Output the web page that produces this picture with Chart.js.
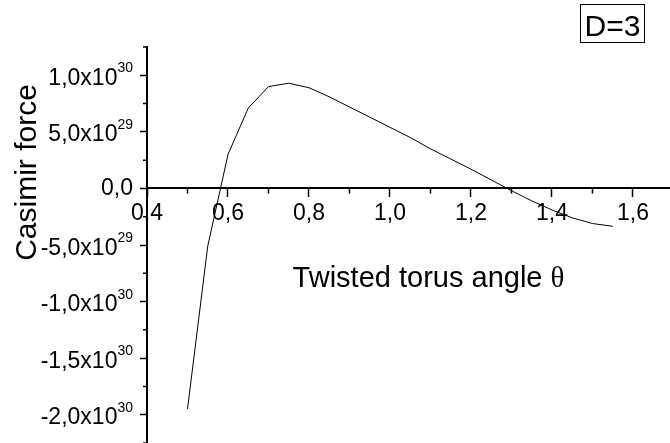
<!DOCTYPE html>
<html>
<head>
<meta charset="utf-8">
<script src="https://cdn.jsdelivr.net/npm/chart.js@4.4.1/dist/chart.umd.min.js"></script>
<style>
  html, body { margin: 0; padding: 0; background: #ffffff; overflow: hidden; }
  #wrap { width: 670px; height: 443px; position: relative; }
  canvas { display: block; }
</style>
</head>
<body>
<div id="wrap"><canvas id="c" width="670" height="443"></canvas></div>
<script>
// ---- data ----
const angles = [0.50, 0.55, 0.60, 0.65, 0.70, 0.75, 0.80, 0.85, 0.90, 0.95, 1.00,
                1.05, 1.10, 1.15, 1.20, 1.25, 1.30, 1.35, 1.40, 1.45, 1.50, 1.55];
const forces = [-1.95e30, -5.1e29, 3.0e29, 7.1e29, 9.0e29, 9.3e29, 8.9e29, 8.1e29, 7.2e29, 6.3e29, 5.4e29,
                4.5e29, 3.5e29, 2.6e29, 1.7e29, 7.5e28, -2.0e28, -1.1e29, -1.9e29, -2.6e29, -3.1e29, -3.35e29];

const xTicks = [0.4, 0.6, 0.8, 1.0, 1.2, 1.4, 1.6];
const xTickLabels = ['0,4', '0,6', '0,8', '1,0', '1,2', '1,4', '1,6'];
const yTicks = [1.0e30, 5.0e29, 0, -5.0e29, -1.0e30, -1.5e30, -2.0e30];
const yTickMantissa = ['1,0x10', '5,0x10', '0,0', '-5,0x10', '-1,0x10', '-1,5x10', '-2,0x10'];
const yTickExponent = ['30', '29', '', '29', '30', '30', '30'];

const xTitle = 'Twisted torus angle ';
const xTitleSymbol = '\u03B8';
const yTitle = 'Casimir force';
const legendText = 'D=3';

const SANS = '"Liberation Sans", Arial, Helvetica, sans-serif';
const SERIF = '"Liberation Serif", "Times New Roman", serif';

const decor = {
  id: 'decor',
  afterDraw(chart) {
    const ctx = chart.ctx;
    const xs = chart.scales.x, ys = chart.scales.y;
    const y0 = ys.getPixelForValue(0);
    const x0 = xs.left;
    ctx.save();
    // minor ticks
    ctx.strokeStyle = '#000';
    ctx.lineWidth = 1.5;
    ctx.beginPath();
    const yStep = yTicks[0] - yTicks[1];
    for (let v = yTicks[0] + yStep / 2; v >= ys.min - 1e20; v -= yStep) {
      const py = ys.getPixelForValue(v);
      ctx.moveTo(x0 - 4, py);
      ctx.lineTo(x0, py);
    }
    const xStep = xTicks[1] - xTicks[0];
    for (let v = xTicks[0] + xStep / 2; v <= xs.max + 1e-9; v += xStep) {
      const px = xs.getPixelForValue(v);
      ctx.moveTo(px, y0);
      ctx.lineTo(px, y0 + 5);
    }
    ctx.stroke();

    // x tick labels
    ctx.fillStyle = '#000';
    ctx.font = '23px ' + SANS;
    ctx.textAlign = 'center';
    ctx.textBaseline = 'alphabetic';
    xTicks.forEach((v, i) => {
      ctx.fillText(xTickLabels[i], xs.getPixelForValue(v), y0 + 32);
    });

    // y tick labels with superscript exponents
    const right = x0 - 14;
    ctx.textAlign = 'right';
    yTicks.forEach((v, i) => {
      const py = ys.getPixelForValue(v);
      const exp = yTickExponent[i];
      if (exp) {
        ctx.font = '14px ' + SANS;
        const w = ctx.measureText(exp).width;
        ctx.fillText(exp, right, py - 3);
        ctx.font = '23px ' + SANS;
        ctx.fillText(yTickMantissa[i], right - w, py + 9.5);
      } else {
        ctx.font = '23px ' + SANS;
        ctx.fillText(yTickMantissa[i], right, py + 7);
      }
    });

    // y title (rotated)
    ctx.save();
    ctx.translate(36, 172.5);
    ctx.rotate(-Math.PI / 2);
    ctx.font = '30px ' + SANS;
    ctx.textAlign = 'center';
    ctx.fillText(yTitle, 0, 0);
    ctx.restore();

    // x title with serif theta
    ctx.textAlign = 'left';
    ctx.font = '29px ' + SANS;
    const w1 = ctx.measureText(xTitle).width;
    ctx.font = '29px ' + SERIF;
    const w2 = ctx.measureText(xTitleSymbol).width;
    const sx = 428.5 - (w1 + w2) / 2;
    ctx.font = '29px ' + SANS;
    ctx.fillText(xTitle, sx, 287);
    ctx.font = '29px ' + SERIF;
    ctx.fillText(xTitleSymbol, sx + w1, 287);

    // legend box
    ctx.lineWidth = 1;
    ctx.strokeStyle = '#000';
    ctx.strokeRect(580.5, 4.5, 64, 38);
    ctx.font = '30px ' + SANS;
    ctx.textAlign = 'center';
    ctx.fillText(legendText, 612.5, 36);
    ctx.restore();
  }
};

new Chart(document.getElementById('c'), {
  type: 'line',
  data: {
    datasets: [{
      data: angles.map((a, i) => ({ x: a, y: forces[i] })),
      borderColor: '#000',
      borderWidth: 1,
      pointRadius: 0,
      tension: 0,
      fill: false
    }]
  },
  options: {
    responsive: false,
    animation: false,
    devicePixelRatio: 1,
    layout: { padding: { top: 47, left: 0, right: 0, bottom: 0 } },
    plugins: { legend: { display: false }, tooltip: { enabled: false }, title: { display: false } },
    scales: {
      x: {
        type: 'linear',
        position: { y: 0 },
        min: 0.4,
        max: 1.6914,
        afterBuildTicks: (s) => { s.ticks = xTicks.map(v => ({ value: v })); },
        ticks: { display: false },
        grid: { display: true, drawOnChartArea: false, drawTicks: true, tickLength: 8, tickColor: '#000', tickWidth: 1.5 },
        border: { display: true, color: '#000', width: 2 }
      },
      y: {
        type: 'linear',
        position: 'left',
        min: -2.25e30,
        max: 1.25e30,
        afterBuildTicks: (s) => { s.ticks = yTicks.map(v => ({ value: v })); },
        afterFit: (s) => { s.width = 147; },
        ticks: { display: false },
        grid: { display: true, drawOnChartArea: false, drawTicks: true, tickLength: 7, tickColor: '#000', tickWidth: 1.5 },
        border: { display: true, color: '#000', width: 2 }
      }
    }
  },
  plugins: [decor]
});
</script>
</body>
</html>
